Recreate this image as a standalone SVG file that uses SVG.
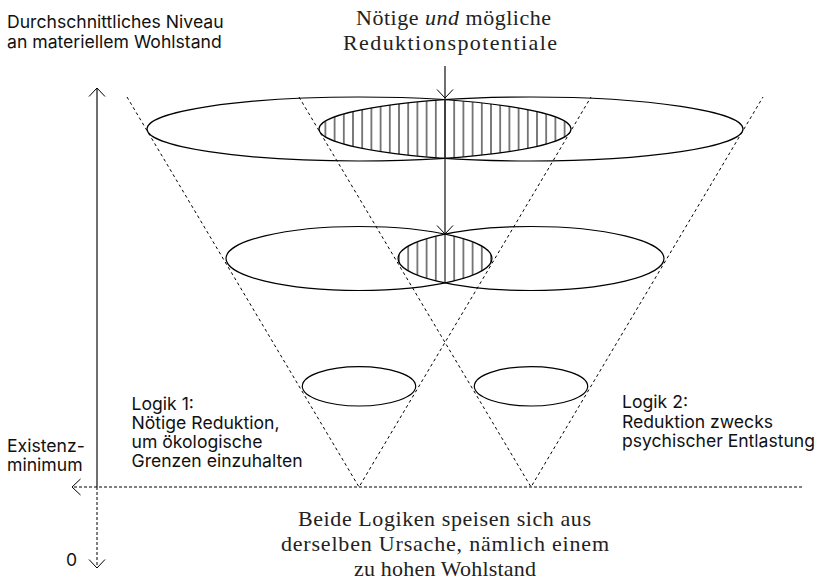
<svg xmlns="http://www.w3.org/2000/svg" width="819" height="585" viewBox="0 0 819 585">
<style>
.sans{font-family:Inter,"Liberation Sans",sans-serif;font-size:17.6px;fill:#111}
.serif{font-family:"Liberation Serif",serif;font-size:22px;fill:#222}
.ell{fill:none;stroke:#000;stroke-width:1.2}
.cone{fill:none;stroke:#000;stroke-width:1;stroke-dasharray:3 3}
.axis{fill:none;stroke:#222;stroke-width:1.3}
.dot{fill:none;stroke:#000;stroke-width:1;stroke-dasharray:3 2}
</style>
<defs>
<marker id="ah" viewBox="-10 -10 20 20" markerWidth="20" markerHeight="20" refX="0" refY="0" orient="auto" markerUnits="userSpaceOnUse">
<path d="M-8.5,-8 L0,0 L-8.5,8" fill="none" stroke="#000" stroke-width="1"/>
</marker>
<pattern id="hatch" patternUnits="userSpaceOnUse" x="440.4" y="0" width="9.2" height="585">
<line x1="4.6" y1="0" x2="4.6" y2="585" stroke="#000" stroke-width="1"/>
</pattern>
<clipPath id="cTopL"><ellipse cx="359" cy="129" rx="212" ry="32"/></clipPath>
<clipPath id="cTopR"><ellipse cx="531" cy="129" rx="212" ry="32"/></clipPath>
<clipPath id="cMidL"><ellipse cx="359" cy="258.5" rx="133" ry="32"/></clipPath>
<clipPath id="cMidR"><ellipse cx="531" cy="258.5" rx="133" ry="32"/></clipPath>
</defs>

<g id="cones">
<path class="cone" d="M127,97 L359,487 L591,97"/>
<path class="cone" d="M299,97 L531,487 L763,97"/>
</g>

<g id="hatch-top" clip-path="url(#cTopL)">
<rect x="300" y="90" width="290" height="80" fill="url(#hatch)" clip-path="url(#cTopR)"/>
</g>
<g id="hatch-mid" clip-path="url(#cMidL)">
<rect x="390" y="220" width="110" height="80" fill="url(#hatch)" clip-path="url(#cMidR)"/>
</g>

<g id="ellipse-top-1"><ellipse class="ell" cx="359" cy="129" rx="212" ry="32"/></g>
<g id="ellipse-top-2"><ellipse class="ell" cx="531" cy="129" rx="212" ry="32"/></g>
<g id="ellipse-mid-1"><ellipse class="ell" cx="359" cy="258.5" rx="133" ry="32"/></g>
<g id="ellipse-mid-2"><ellipse class="ell" cx="531" cy="258.5" rx="133" ry="32"/></g>
<g id="ellipse-low-1"><ellipse class="ell" cx="359" cy="386.3" rx="56.7" ry="19.7"/></g>
<g id="ellipse-low-2"><ellipse class="ell" cx="531" cy="386.3" rx="56.7" ry="19.7"/></g>

<g id="connectors">
<line class="axis" x1="445" y1="66" x2="445" y2="98" marker-end="url(#ah)"/>
<line class="axis" x1="445" y1="98" x2="445" y2="234" marker-end="url(#ah)"/>
<line class="axis" x1="97" y1="487" x2="97" y2="88" marker-end="url(#ah)"/>
<line class="dot" x1="97" y1="487" x2="97" y2="568" marker-end="url(#ah)"/>
<line class="dot" x1="802" y1="487" x2="72" y2="487" marker-end="url(#ah)"/>
</g>

<g id="title">
<text class="serif" x="356" y="25" textLength="195" lengthAdjust="spacing">Nötige <tspan font-style="italic">und</tspan> mögliche</text>
<text class="serif" x="343" y="50" textLength="214" lengthAdjust="spacing">Reduktionspotentiale</text>
</g>

<g id="y-label">
<text class="sans" x="7" y="28">Durchschnittliches Niveau</text>
<text class="sans" x="7" y="47.5">an materiellem Wohlstand</text>
</g>

<g id="existenz-label">
<text class="sans" x="7" y="452">Existenz-</text>
<text class="sans" x="7" y="471">minimum</text>
</g>

<g id="zero-label"><text class="sans" x="66" y="566">0</text></g>

<g id="logik1">
<text class="sans" x="131.5" y="409.5">Logik 1:</text>
<text class="sans" x="131.5" y="428.8">Nötige Reduktion,</text>
<text class="sans" x="131.5" y="448">um ökologische</text>
<text class="sans" x="131.5" y="467.3">Grenzen einzuhalten</text>
</g>

<g id="logik2">
<text class="sans" x="622" y="408.3">Logik 2:</text>
<text class="sans" x="622" y="427.6">Reduktion zwecks</text>
<text class="sans" x="622" y="446.9" textLength="193" lengthAdjust="spacingAndGlyphs">psychischer Entlastung</text>
</g>

<g id="bottom-text">
<text class="serif" x="298" y="526" textLength="293" lengthAdjust="spacing">Beide Logiken speisen sich aus</text>
<text class="serif" x="281" y="551" textLength="328" lengthAdjust="spacing">derselben Ursache, nämlich einem</text>
<text class="serif" x="354" y="576" textLength="182" lengthAdjust="spacing">zu hohen Wohlstand</text>
</g>
</svg>
